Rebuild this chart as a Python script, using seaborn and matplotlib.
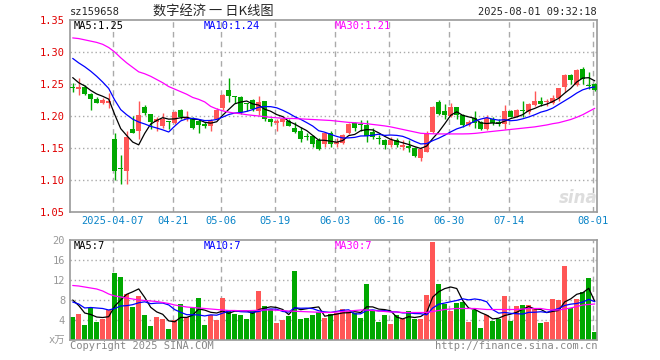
import numpy as np
import pandas as pd
import matplotlib
matplotlib.use('Agg')
import matplotlib.pyplot as plt
import seaborn as sns

# daily candles, 88 trading days (index 0 .. 87)
opens = [1.244, 1.242, 1.246, 1.234, 1.227, 1.221, 1.221, 1.164, 1.118, 1.114,
         1.179, 1.176, 1.214, 1.2026, 1.191, 1.184, 1.191, 1.1885, 1.210, 1.196,
         1.197, 1.192, 1.187, 1.185, 1.196, 1.212, 1.241, 1.231, 1.2295, 1.2185,
         1.2245, 1.208, 1.223, 1.196, 1.1895, 1.1905, 1.192, 1.182, 1.1766, 1.168,
         1.1687, 1.1625, 1.157, 1.173, 1.157, 1.158, 1.173, 1.1885, 1.1865, 1.186,
         1.1755, 1.1645, 1.1625, 1.1547, 1.1625, 1.152, 1.1536, 1.1505, 1.135, 1.1445,
         1.175, 1.2225, 1.2085, 1.200, 1.2135, 1.201, 1.1854, 1.1974, 1.1906, 1.179,
         1.1958, 1.1906, 1.1875, 1.2075, 1.199, 1.2095, 1.206, 1.2175, 1.2235, 1.2215,
         1.2205, 1.2275, 1.245, 1.2645, 1.249, 1.2735, 1.248, 1.2505]
highs = [1.252, 1.259, 1.248, 1.236, 1.230, 1.228, 1.236, 1.173, 1.139, 1.176,
         1.200, 1.223, 1.217, 1.203, 1.198, 1.205, 1.192, 1.208, 1.211, 1.208,
         1.199, 1.195, 1.190, 1.195, 1.212, 1.235, 1.260, 1.232, 1.231, 1.221,
         1.226, 1.232, 1.223, 1.197, 1.195, 1.196, 1.196, 1.190, 1.183, 1.173,
         1.170, 1.165, 1.174, 1.176, 1.166, 1.172, 1.189, 1.191, 1.193, 1.194,
         1.181, 1.170, 1.164, 1.1675, 1.165, 1.162, 1.1625, 1.152, 1.151, 1.176,
         1.215, 1.225, 1.218, 1.220, 1.214, 1.203, 1.194, 1.208, 1.192, 1.201,
         1.199, 1.195, 1.217, 1.2095, 1.2105, 1.224, 1.220, 1.239, 1.230, 1.227,
         1.2325, 1.2445, 1.2655, 1.265, 1.273, 1.276, 1.2695, 1.2515]
lows = [1.237, 1.233, 1.233, 1.209, 1.220, 1.219, 1.212, 1.100, 1.094, 1.093,
        1.173, 1.164, 1.201, 1.179, 1.177, 1.182, 1.180, 1.187, 1.196, 1.192,
        1.179, 1.174, 1.182, 1.176, 1.195, 1.210, 1.222, 1.221, 1.203, 1.208,
        1.208, 1.201, 1.192, 1.184, 1.1765, 1.185, 1.185, 1.173, 1.160, 1.163,
        1.152, 1.147, 1.152, 1.152, 1.151, 1.157, 1.172, 1.176, 1.176, 1.160,
        1.164, 1.157, 1.1485, 1.152, 1.151, 1.147, 1.144, 1.136, 1.130, 1.143,
        1.173, 1.201, 1.196, 1.199, 1.196, 1.1835, 1.185, 1.182, 1.178, 1.178,
        1.186, 1.184, 1.180, 1.1985, 1.198, 1.199, 1.203, 1.216, 1.215, 1.216,
        1.219, 1.224, 1.238, 1.2505, 1.2475, 1.2495, 1.242, 1.2395]
closes = [1.243, 1.246, 1.235, 1.227, 1.221, 1.225, 1.224, 1.1145, 1.117, 1.167,
          1.174, 1.202, 1.204, 1.190, 1.195, 1.196, 1.1905, 1.206, 1.199, 1.199,
          1.182, 1.186, 1.185, 1.192, 1.210, 1.233, 1.231, 1.229, 1.206, 1.218,
          1.2105, 1.222, 1.196, 1.1905, 1.192, 1.1948, 1.185, 1.1745, 1.164, 1.1675,
          1.157, 1.1484, 1.173, 1.157, 1.160, 1.170, 1.187, 1.182, 1.186, 1.1687,
          1.1677, 1.164, 1.1547, 1.1625, 1.1547, 1.155, 1.1505, 1.138, 1.148, 1.174,
          1.2135, 1.2025, 1.201, 1.2146, 1.2015, 1.1854, 1.1906, 1.1895, 1.179, 1.197,
          1.1895, 1.187, 1.2075, 1.199, 1.2095, 1.2075, 1.219, 1.2242, 1.2195, 1.2225,
          1.2278, 1.2445, 1.2645, 1.2565, 1.2722, 1.2585, 1.2475, 1.2405]
# volume in units of 万
volumes = [4.67, 5.2, 3.0, 6.5, 3.6, 4.2, 6.0, 13.5, 12.7, 9.3,
           6.7, 8.9, 5.0, 2.8, 4.7, 4.3, 2.3, 4.1, 7.2, 4.7,
           6.5, 8.5, 3.0, 5.0, 4.0, 8.5, 6.1, 5.3, 5.0, 4.2,
           6.0, 9.9, 6.8, 6.3, 3.5, 4.0, 4.8, 13.8, 4.2, 4.5,
           5.0, 5.6, 4.5, 5.3, 5.5, 6.2, 5.8, 5.5, 4.5, 11.2,
           6.1, 3.6, 5.0, 3.2, 5.0, 4.3, 5.8, 4.2, 4.2, 9.0,
           19.7, 11.2, 7.3, 5.8, 7.5, 7.7, 3.6, 6.1, 2.5, 5.0,
           3.9, 4.3, 8.8, 3.9, 6.8, 7.0, 7.0, 6.3, 3.5, 3.6,
           8.2, 8.0, 14.8, 6.5, 8.2, 9.7, 12.5, 1.7]

# moving averages: first points come from days before the window
ma5_head = [1.260, 1.252, 1.247, 1.240]
ma10_head = [1.290, 1.283, 1.277, 1.270, 1.262, 1.253, 1.243, 1.225, 1.210]
ma30 = [1.322, 1.321, 1.319, 1.317, 1.315, 1.312, 1.307, 1.300, 1.291, 1.283,
        1.276, 1.269, 1.266, 1.262, 1.257, 1.252, 1.246, 1.242, 1.238, 1.234,
        1.229, 1.226, 1.222, 1.215, 1.211, 1.208, 1.206, 1.2045, 1.2035, 1.202,
        1.201, 1.200, 1.199, 1.198, 1.1972, 1.1965, 1.1962, 1.196, 1.1955, 1.195,
        1.1945, 1.194, 1.1935, 1.193, 1.192, 1.191, 1.190, 1.1895, 1.1888, 1.188,
        1.1868, 1.1857, 1.1845, 1.183, 1.181, 1.179, 1.177, 1.175, 1.173, 1.1725,
        1.1722, 1.172, 1.172, 1.172, 1.172, 1.172, 1.1722, 1.1728, 1.1738, 1.175,
        1.176, 1.177, 1.178, 1.179, 1.180, 1.181, 1.182, 1.183, 1.1845, 1.186,
        1.188, 1.1895, 1.192, 1.1945, 1.198, 1.202, 1.207, 1.212]
vol_ma5_head = [8.0, 6.9, 5.4, 5.1]
vol_ma10_head = [7.6, 7.2, 6.4, 6.5, 6.4, 6.3, 6.0, 6.3, 6.8]
vol_ma30 = [10.9, 10.8, 10.6, 10.4, 10.2, 9.8, 9.2, 8.8, 8.6, 8.4,
            8.2, 8.0, 7.9, 7.8, 7.7, 7.5, 7.3, 7.0, 6.8, 6.6,
            6.5, 6.4, 6.3, 6.2, 6.1, 6.0, 5.9, 5.9, 5.85, 5.85,
            5.9, 5.95, 6.0, 6.0, 5.95, 5.9, 5.8, 5.75, 5.7, 5.65,
            5.6, 5.55, 5.5, 5.5, 5.6, 5.7, 5.8, 5.9, 6.0, 6.0,
            5.9, 5.8, 5.7, 5.6, 5.6, 5.5, 5.5, 5.5, 5.5, 5.5,
            5.7, 5.9, 6.1, 6.2, 6.3, 6.3, 6.3, 6.3, 6.2, 6.1,
            6.1, 6.1, 6.1, 6.1, 6.1, 6.2, 6.3, 6.3, 6.3, 6.1,
            6.0, 6.0, 6.2, 6.4, 6.7, 7.0, 7.1, 7.2]

tick_days = [7, 17, 25, 34, 44, 53, 63, 73, 87]
tick_labels = ['2025-04-07', '04-21', '05-06', '05-19', '06-03',
               '06-16', '06-30', '07-14', '08-01']
price_ticks = [1.05, 1.10, 1.15, 1.20, 1.25, 1.30, 1.35]
vol_ticks = [0, 4, 8, 12, 16, 20]
vol_tick_labels = ['x万', '4', '8', '12', '16', '20']

sns.set_style('white')
plt.rcParams['font.family'] = ['DejaVu Sans Mono', 'Noto Sans CJK SC']
plt.rcParams['font.size'] = 7.5

RED = '#ff5656'
GREEN = '#00a800'
GRID = '#aaaaaa'
FRAME = '#999999'

idx = np.arange(len(closes))
o = np.array(opens)
c = np.array(closes)
colors = np.where(c >= o, RED, GREEN)

ma5 = pd.Series(closes).rolling(5).mean().values
ma5[:4] = ma5_head
ma10 = pd.Series(closes).rolling(10).mean().values
ma10[:9] = ma10_head
vma5 = pd.Series(volumes).rolling(5).mean().values
vma5[:4] = vol_ma5_head
vma10 = pd.Series(volumes).rolling(10).mean().values
vma10[:9] = vol_ma10_head

W, H = 660, 360
fig = plt.figure(figsize=(6.6, 3.6), dpi=100)
ax = fig.add_axes([70 / W, 148 / H, 527 / W, 192 / H])
axv = fig.add_axes([70 / W, 20 / H, 527 / W, 100 / H])

grid_x = [t - 0.33 for t in tick_days]
for a in (ax, axv):
    for gx in grid_x:
        a.axvline(gx, color=GRID, ls=(0, (4, 3)), lw=1, zorder=0)
    for s in a.spines.values():
        s.set_color(FRAME)
        s.set_linewidth(1.2)
    a.set_xlim(-0.45, 87.38)
    a.tick_params(length=0)

for gy in price_ticks[1:-1]:
    ax.axhline(gy, color=GRID, ls=(0, (1, 2)), lw=1, zorder=0)
for gy in vol_ticks[1:-1]:
    axv.axhline(gy, color=GRID, ls=(0, (1, 2)), lw=1, zorder=0)

# candles
ax.vlines(idx, lows, highs, colors=colors, lw=1, zorder=2)
ax.bar(idx, np.maximum(np.abs(c - o), 0.0016), bottom=np.minimum(o, c),
       width=0.8, color=colors, linewidth=0, zorder=3)
sns.lineplot(x=idx, y=ma5, ax=ax, color='black', lw=0.9, zorder=4)
sns.lineplot(x=idx, y=ma10, ax=ax, color='#0000ff', lw=0.9, zorder=4)
sns.lineplot(x=idx, y=ma30, ax=ax, color='#ff00ff', lw=0.9, zorder=4)
ax.set_ylim(1.05, 1.35)
ax.set_yticks(price_ticks)
ax.set_yticklabels([f'{v:.2f}' for v in price_ticks], color='#e00000')
ax.set_xticks(grid_x)
ax.set_xticklabels(tick_labels, color='#0a84c8')
ax.tick_params(axis='x', pad=3)
ax.tick_params(axis='y', pad=3.5)
ax.set_xlabel('')
ax.set_ylabel('')

# volume
axv.bar(idx, volumes, width=0.8, color=colors, linewidth=0, zorder=2)
sns.lineplot(x=idx, y=vma5, ax=axv, color='black', lw=0.9, zorder=4)
sns.lineplot(x=idx, y=vma10, ax=axv, color='#0000ff', lw=0.9, zorder=4)
sns.lineplot(x=idx, y=vol_ma30, ax=axv, color='#ff00ff', lw=0.9, zorder=4)
axv.set_ylim(0, 20)
axv.set_yticks(vol_ticks)
axv.set_yticklabels(vol_tick_labels, color=FRAME)
axv.tick_params(axis='y', pad=3.5)
axv.set_xticks([])
axv.set_xlabel('')
axv.set_ylabel('')


def px(x, y, s, **kw):
    fig.text(x / W, 1 - y / H, s, va='center', **kw)


px(70, 12, 'sz159658')
px(213, 12, '数字经济 一 日K线图', ha='center', size=9.5,
   family=['Noto Sans CJK SC', 'DejaVu Sans'])
px(597, 12, '2025-08-01 09:32:18', ha='right')
px(74, 26, 'MA5:1.25', color='black')
px(204, 26, 'MA10:1.24', color='#0000ff')
px(335, 26, 'MA30:1.21', color='#ff00ff')
px(74, 246, 'MA5:7', color='black')
px(204, 246, 'MA10:7', color='#0000ff')
px(335, 246, 'MA30:7', color='#ff00ff')
px(70, 346, 'Copyright 2025 SINA.COM', color='#888888')
px(597, 346, 'http://finance.sina.com.cn', ha='right', color='#888888')
px(578, 198, 'sina', ha='center', color='#dddddd', size=12,
   style='italic', weight='bold', family=['DejaVu Sans'])

fig.savefig('out.png', dpi=100)
